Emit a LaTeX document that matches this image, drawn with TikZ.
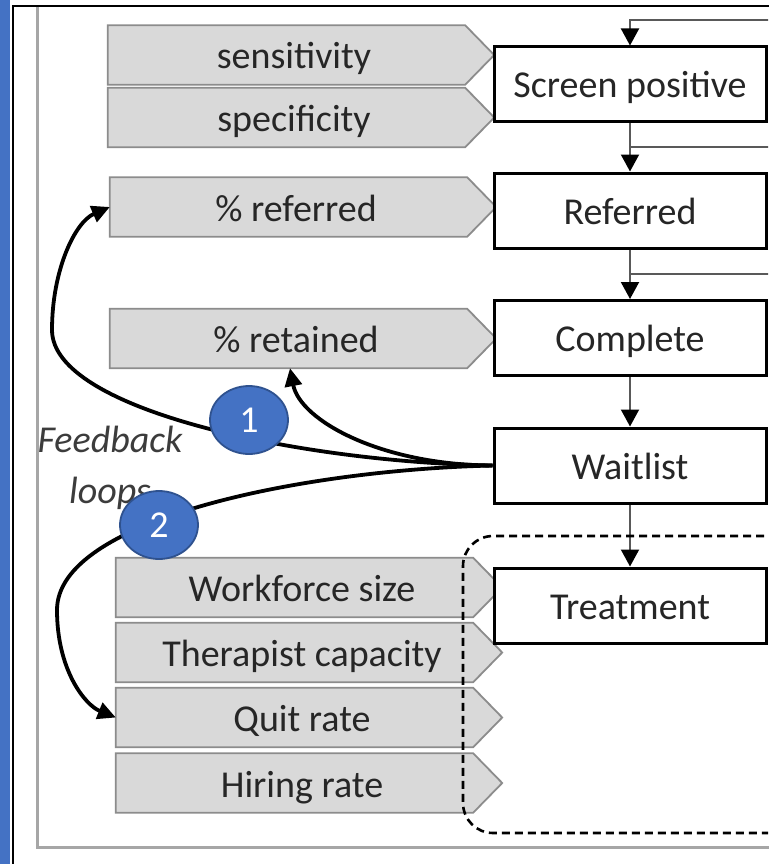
\documentclass[tikz,border=0pt]{standalone}
\usepackage{fontspec}
\setmainfont{Carlito}
\usetikzlibrary{arrows.meta,shapes.geometric,backgrounds,calc}
\definecolor{accentblue}{HTML}{4472C4}
\definecolor{ringblue}{HTML}{2F528F}
\definecolor{inputfill}{HTML}{D9D9D9}
\definecolor{inputedge}{HTML}{8C8C8C}
\definecolor{flowgray}{HTML}{595959}
\definecolor{inktext}{HTML}{262626}
\definecolor{framegray}{HTML}{A6A6A6}
\definecolor{notegray}{HTML}{3C3C3C}

\begin{document}
\begin{tikzpicture}[x=1pt,y=-1pt,
  bigfont/.style={font=\fontsize{38}{46}\selectfont},
  stage/.style={draw=black, line width=3pt, fill=white, minimum width=272pt,
    minimum height=75pt, inner sep=0pt, text height=27pt, text depth=0pt,
    bigfont, text=inktext},
  input/.style={minimum width=372pt, minimum height=59pt, inner sep=0pt,
    text height=28pt, text depth=0pt, bigfont, text=inktext},
  inputshape/.style={fill=inputfill, draw=inputedge, line width=1.8pt},
  flow/.style={draw=flowgray, line width=2pt},
  flowarrow/.style={flow, -{Triangle[width=18pt,length=17pt,color=black]}},
  loopline/.style={draw=black, line width=3.8pt, -{Triangle[width=17pt,length=18pt]}},
  badge/.style={ellipse, fill=accentblue, draw=ringblue, line width=1.8pt,
    minimum width=78pt, minimum height=68pt, inner sep=0pt, text=white, bigfont}
]
\useasboundingbox (0,0) rectangle (768,864);
\clip (0,0) rectangle (768,864);

% input parameters (text only; their arrow-shaped panels go underneath)
\node[input] (sens) at (294,55)    {sensitivity};
\node[input] (spec) at (294,117.5) {specificity};
\node[input] (refp) at (296,207)   {\% referred};
\node[input] (retp) at (296,338.5) {\% retained};
\node[input] (work) at (302,587.5) {Workforce size};
\node[input] (ther) at (302,652.5) {Therapist capacity};
\node[input] (quit) at (302,717.5) {Quit rate};
\node[input] (hire) at (302,783)   {Hiring rate};

\begin{scope}[on background layer]
  % page frame
  \fill[white] (0,0) rectangle (768,864);
  \fill[accentblue] (0,0) rectangle (9.5,864);
  \draw[black, line width=2.8pt] (13,870) -- (13,6) -- (780,6);
  \draw[framegray, line width=2.2pt] (37.5,7) -- (37.5,847.5) -- (780,847.5);
  % arrow-shaped panels
  \foreach \n in {sens,spec,refp,retp,work,ther,quit,hire}
    \path[inputshape] (\n.south west) -- (\n.north west)
      -- ([xshift=-15pt]\n.north east) -- ([xshift=14pt]\n.east)
      -- ([xshift=-15pt]\n.south east) -- cycle;
\end{scope}

% care pathway stages
\node[stage] (screen) at (630,84.5)  {Screen positive};
\node[stage] (refd)   at (630,210.5) {Referred};
\node[stage] (compl)  at (630,338)   {Complete};
\node[stage] (wait)   at (630,465.5) {Waitlist};
\node[stage] (treat)  at (630,605.5) {Treatment};

% flow between stages
\coordinate (feedA) at (775,20);
\coordinate (feedB) at (775,147);
\coordinate (feedC) at (775,274);
\draw[flowarrow] (feedA) -| (screen.north);
\draw[flow] (feedB) -- (feedB -| screen.south);
\draw[flowarrow] (screen.south) -- (refd.north);
\draw[flow] (feedC) -- (feedC -| refd.south);
\draw[flowarrow] (refd.south) -- (compl.north);
\draw[flowarrow] (compl.south) -- (wait.north);
\draw[flowarrow] (wait.south) -- (treat.north);

% workforce group
\draw[black, line width=2.6pt, dash pattern=on 8pt off 5pt, rounded corners=30pt]
  (790,536) -- (463,536) -- (463,833) -- (790,833);

% feedback loops
\draw[loopline] (wait.west) .. controls (300,462) and (52,410) .. (52,330)
  .. controls (52,270) and (75,222) .. (refp.west);
\draw[loopline] (wait.west) .. controls (380,465) and (300,420) .. ([xshift=-6pt]retp.south);
\draw[loopline] (wait.west) .. controls (300,470) and (57,520) .. (57,610)
  .. controls (57,670) and (85,705) .. (quit.west);

\node[font=\itshape\fontsize{38}{51}\selectfont, text=notegray, align=center,
  inner sep=0pt] (fbnote) at (110,468) {Feedback\\loops};

\node[badge] (one) at (249,420) {1};
\node[badge] (two) at (159,525) {2};
\end{tikzpicture}
\end{document}
